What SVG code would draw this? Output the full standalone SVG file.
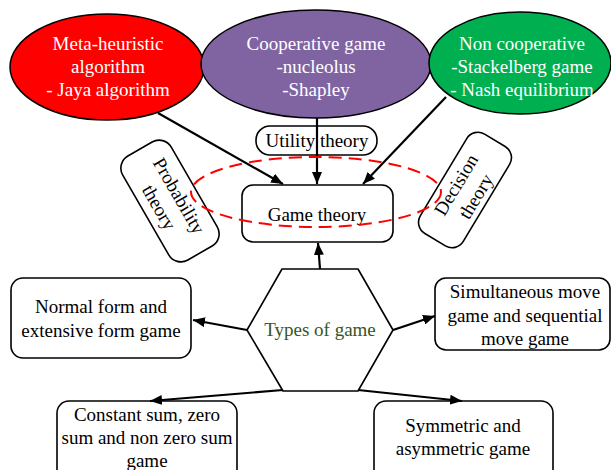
<svg xmlns="http://www.w3.org/2000/svg" width="611" height="470" viewBox="0 0 611 470">
  <style>
    text { font-family: "Liberation Serif", "Times New Roman", serif; font-size: 19px; text-anchor: middle; fill: #000; }
    .w { fill: #fff; }
    .g { fill: #375623; }
    .box { fill: #fff; stroke: #000; stroke-width: 1.6; }
    .ell { stroke: #000; stroke-width: 1.5; }
    .conn { stroke: #000; stroke-width: 2.2; fill: none; marker-end: url(#ah); }
  </style>
  <defs>
    <marker id="ah" markerUnits="userSpaceOnUse" viewBox="0 0 12 10" refX="12" refY="5" markerWidth="12" markerHeight="10" orient="auto">
      <path d="M0,0 L12,5 L0,10 z" fill="#000"/>
    </marker>
  </defs>
  <rect width="611" height="470" fill="#fff"/>

  <g id="meta-heuristic">
    <ellipse class="ell" cx="107" cy="67" rx="97" ry="53" fill="#FF0000"/>
    <text class="w" x="108" y="50">Meta-heuristic</text>
    <text class="w" x="108" y="73">algorithm</text>
    <text class="w" x="108" y="96">- Jaya algorithm</text>
  </g>
  <g id="cooperative">
    <ellipse class="ell" cx="316" cy="64" rx="115" ry="54" fill="#8064A2"/>
    <text class="w" x="316" y="50">Cooperative game</text>
    <text class="w" x="316" y="73">-nucleolus</text>
    <text class="w" x="316" y="96">-Shapley</text>
  </g>
  <g id="noncooperative">
    <ellipse class="ell" cx="520" cy="63" rx="91" ry="51" fill="#00B050"/>
    <text class="w" x="522" y="50">Non cooperative</text>
    <text class="w" x="522" y="73">-Stackelberg game</text>
    <text class="w" x="522" y="96">- Nash equilibrium</text>
  </g>
  <g id="utility">
    <rect class="box" x="256" y="126" width="121" height="29" rx="14"/>
    <text x="317" y="147">Utility theory</text>
  </g>
  <g id="probability" transform="translate(170,201) rotate(60)">
    <rect class="box" x="-60" y="-28" width="120" height="56" rx="14"/>
    <text x="0" y="-4">Probability</text>
    <text x="0" y="19">theory</text>
  </g>
  <g id="decision" transform="translate(465,190) rotate(-59)">
    <rect class="box" x="-58" y="-25" width="116" height="50" rx="13"/>
    <text x="0" y="-4">Decision</text>
    <text x="0" y="19">theory</text>
  </g>
  <g id="game-theory">
    <rect class="box" x="242" y="185" width="151" height="57" rx="11"/>
    <text x="317" y="221">Game theory</text>
  </g>
  <g id="types">
    <polygon class="box" stroke-linejoin="round" points="282,269 358,269 393,330 358,391 283,391 247,330"/>
    <text class="g" x="320" y="336">Types of game</text>
  </g>
  <g id="normal-form">
    <rect class="box" x="11" y="278" width="180" height="80" rx="12"/>
    <text x="101" y="313">Normal form and</text>
    <text x="101" y="337">extensive form game</text>
  </g>
  <g id="simultaneous">
    <rect class="box" x="435" y="278" width="175" height="72" rx="11"/>
    <text x="525" y="298">Simultaneous move</text>
    <text x="525" y="321.5">game and sequential</text>
    <text x="525" y="345">move game</text>
  </g>
  <g id="constant-sum">
    <rect class="box" x="57" y="401" width="180" height="80" rx="12"/>
    <text x="147" y="421">Constant sum, zero</text>
    <text x="147" y="444">sum and non zero sum</text>
    <text x="147" y="467">game</text>
  </g>
  <g id="symmetric">
    <rect class="box" x="374" y="401" width="179" height="80" rx="12"/>
    <text x="463" y="432">Symmetric and</text>
    <text x="463" y="455">asymmetric game</text>
  </g>

  <g id="connectors">
    <line class="conn" x1="158" y1="113" x2="283" y2="184"/>
    <line class="conn" x1="317" y1="118" x2="317" y2="184"/>
    <line class="conn" x1="446" y1="97" x2="363" y2="184"/>
    <line class="conn" x1="320" y1="269" x2="318" y2="243"/>
    <line class="conn" x1="247" y1="330" x2="193" y2="320"/>
    <line class="conn" x1="393" y1="330" x2="435" y2="316"/>
    <line class="conn" x1="283" y1="390" x2="150" y2="401"/>
    <line class="conn" x1="358" y1="390" x2="462" y2="401"/>
  </g>

  <ellipse id="focus-ring" cx="316" cy="192" rx="125" ry="35" fill="none" stroke="#FF0000" stroke-width="2" stroke-dasharray="13 7"/>
</svg>
